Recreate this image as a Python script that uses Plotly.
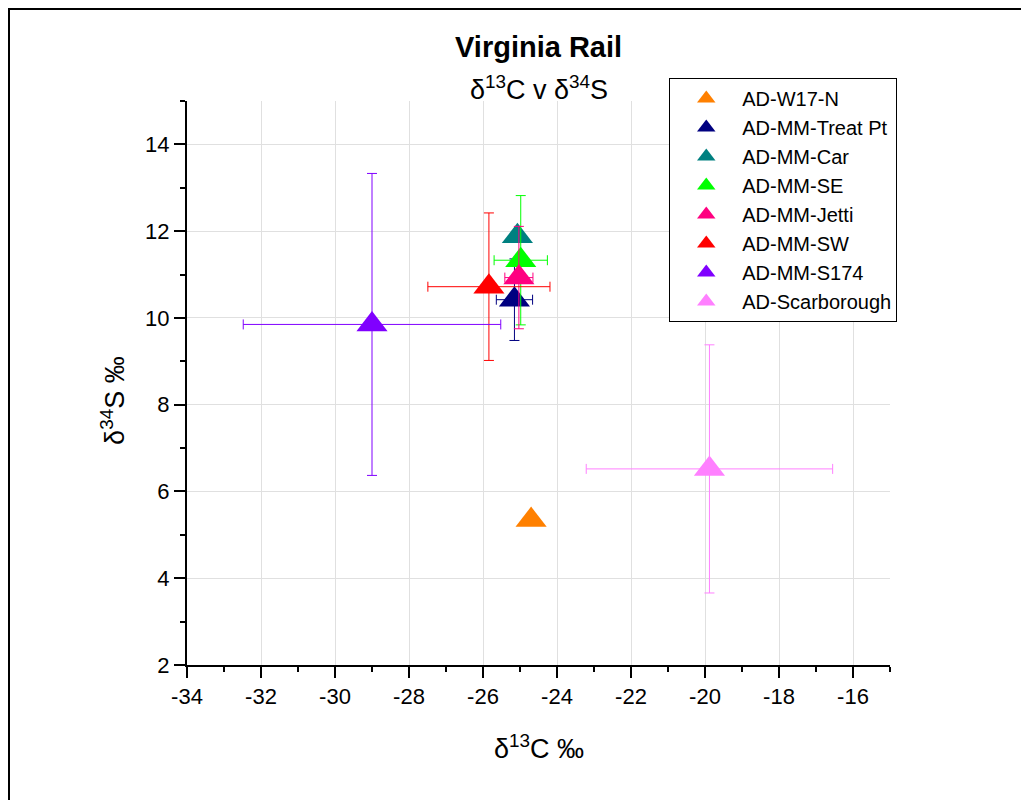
import plotly.graph_objects as go

# site means and standard deviations (delta 13C, delta 34S)
sites = ["AD-W17-N", "AD-MM-Treat Pt", "AD-MM-Car", "AD-MM-SE",
         "AD-MM-Jetti", "AD-MM-SW", "AD-MM-S174", "AD-Scarborough"]
d13c = [-24.70, -25.15, -25.07, -24.98, -25.03, -25.84, -29.00, -19.88]
d34s = [5.34, 10.42, 11.88, 11.33, 10.93, 10.72, 9.85, 6.52]
d13c_sd = [0, 0.49, 0, 0.72, 0.38, 1.65, 3.48, 3.33]
d34s_sd = [0, 0.94, 0, 1.49, 1.18, 1.70, 3.48, 2.86]
colors = ["#FF8000", "#000080", "#008080", "#00FF00",
          "#FF0080", "#FF0000", "#8000FF", "#FF80FF"]

x_ticks = [-34, -32, -30, -28, -26, -24, -22, -20, -18, -16]
x_labels = ["-34", "-32", "-30", "-28", "-26", "-24", "-22", "-20", "-18", "-16"]
y_ticks = [2, 4, 6, 8, 10, 12, 14]

fig = go.Figure()

for i, name in enumerate(sites):
    fig.add_trace(go.Scatter(
        x=[d13c[i]], y=[d34s[i]],
        mode="markers",
        name=name,
        marker=dict(symbol="triangle-up", size=27, color=colors[i]),
        error_x=dict(type="data", array=[d13c_sd[i]], visible=d13c_sd[i] > 0,
                     color=colors[i], thickness=1, width=5),
        error_y=dict(type="data", array=[d34s_sd[i]], visible=d34s_sd[i] > 0,
                     color=colors[i], thickness=1, width=5),
    ))

font_name = "Liberation Sans, Arial, sans-serif"

fig.update_layout(
    width=1029, height=800,
    paper_bgcolor="white", plot_bgcolor="white",
    margin=dict(l=179, r=147, t=93, b=143),
    font=dict(family=font_name, color="black", size=22),
    legend=dict(
        x=0.686, y=1.041, xanchor="left", yanchor="top",
        bordercolor="black", borderwidth=1, bgcolor="white",
        font=dict(size=20, family=font_name, color="black"),
        tracegroupgap=0, itemsizing="trace", itemwidth=62,
    ),
    showlegend=True,
)

fig.update_xaxes(
    range=[-34, -15], tickvals=x_ticks, ticktext=x_labels,
    showline=True, linecolor="black", linewidth=2, mirror=False,
    ticks="outside", ticklen=11, tickwidth=2, tickcolor="black",
    minor=dict(ticks="outside", ticklen=5, tickwidth=2, tickcolor="black", dtick=1, showgrid=False),
    showgrid=True, gridcolor="#E0E0E0", gridwidth=1, zeroline=False,
    tickfont=dict(size=22),
)
fig.update_yaxes(
    range=[2, 15], tickvals=y_ticks,
    showline=True, linecolor="black", linewidth=2, mirror=False,
    ticks="outside", ticklen=11, tickwidth=2, tickcolor="black",
    minor=dict(ticks="outside", ticklen=5, tickwidth=2, tickcolor="black", dtick=1, showgrid=False),
    showgrid=True, gridcolor="#E0E0E0", gridwidth=1, zeroline=False,
    tickfont=dict(size=22),
)

# titles as annotations so they sit where the original puts them
fig.add_annotation(text="<b>Virginia Rail</b>", xref="paper", yref="paper",
                   x=0.5, y=1.0957, showarrow=False, yanchor="middle",
                   font=dict(size=29))
fig.add_annotation(text="δ<sup>13</sup>C v δ<sup>34</sup>S", xref="paper", yref="paper",
                   x=0.5, y=1.023, showarrow=False, yanchor="middle",
                   font=dict(size=27))
fig.add_annotation(text="δ<sup>13</sup>C ‰", xref="paper", yref="paper",
                   x=0.5, y=-0.1454, showarrow=False, yanchor="middle",
                   font=dict(size=27))
fig.add_annotation(text="δ<sup>34</sup>S ‰", xref="paper", yref="paper",
                   x=-0.1053, y=0.47, showarrow=False, textangle=-90,
                   xanchor="center", yanchor="middle", font=dict(size=27))

# outer frame of the exported graph page
fig.add_shape(type="rect", xref="paper", yref="paper",
              x0=-0.2532, x1=1.3, y0=-0.3, y1=1.163,
              line=dict(color="black", width=2), layer="below")

fig.write_html("out.html")
